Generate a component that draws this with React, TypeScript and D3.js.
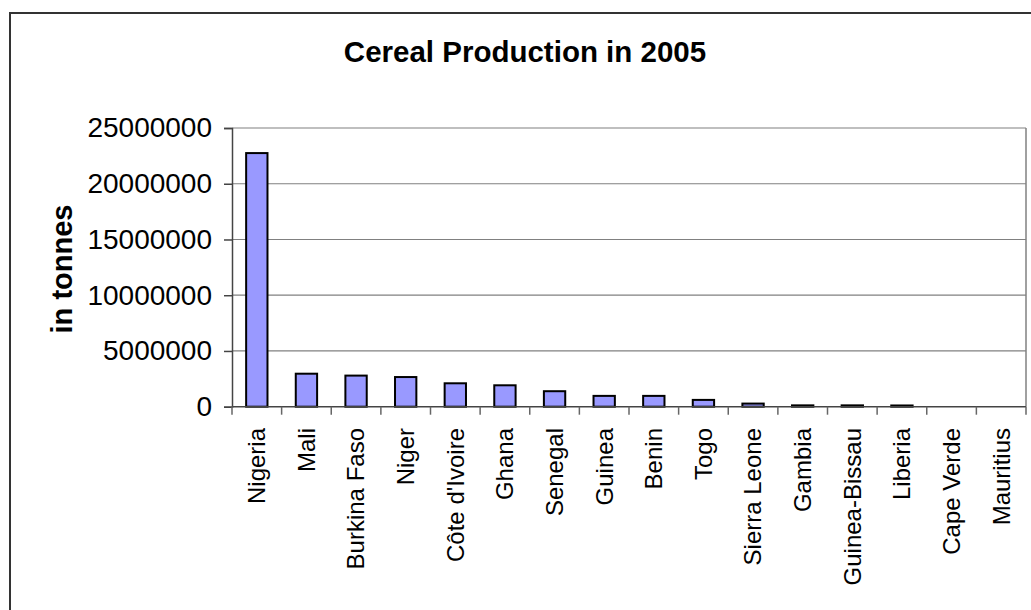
import React, { useEffect, useRef } from "react";
import * as d3 from "d3";

const countries = [
  "Nigeria", "Mali", "Burkina Faso", "Niger", "Côte d'Ivoire", "Ghana", "Senegal", "Guinea",
  "Benin", "Togo", "Sierra Leone", "Gambia", "Guinea-Bissau", "Liberia", "Cape Verde", "Mauritius",
];
const production = [
  22750000, 2960000, 2790000, 2660000, 2100000, 1920000, 1390000, 970000,
  970000, 610000, 280000, 120000, 120000, 110000, 5000, 100,
];
const yTicks = [0, 5000000, 10000000, 15000000, 20000000, 25000000];

const W = 1031;
const H = 610;
const plot = { left: 232, right: 1026, top: 128, bottom: 406.7 };

export default function App() {
  const ref = useRef<SVGSVGElement>(null);

  useEffect(() => {
    document.body.style.margin = "0";
    const svg = d3.select(ref.current);
    svg.selectAll("*").remove();
    const font = "'Liberation Sans', Arial, sans-serif";

    // chart frame
    svg.append("rect")
      .attr("x", 10).attr("y", 13).attr("width", 1040).attr("height", 620)
      .attr("fill", "#fff").attr("stroke", "#333").attr("stroke-width", 2);

    const x = d3.scaleBand<string>().domain(countries).range([plot.left, plot.right]).paddingInner(0.57).paddingOuter(0.285);
    const band = d3.scaleBand<string>().domain(countries).range([plot.left, plot.right]);
    const y = d3.scaleLinear().domain([0, 25000000]).range([plot.bottom, plot.top]);

    // gridlines
    svg.append("g").selectAll("line").data(yTicks.filter(t => t > 0)).join("line")
      .attr("x1", plot.left).attr("x2", plot.right)
      .attr("y1", d => y(d)).attr("y2", d => y(d))
      .attr("stroke", "#808080").attr("stroke-width", 1.2);
    // right edge of plot area
    svg.append("line")
      .attr("x1", plot.right).attr("x2", plot.right).attr("y1", plot.top).attr("y2", plot.bottom)
      .attr("stroke", "#808080").attr("stroke-width", 1.5);

    // bars (values too small to reach half a pixel stay invisible)
    const rows = countries.map((c, i) => ({ c, v: production[i] }))
      .filter(r => plot.bottom - y(r.v) >= 0.5);
    svg.append("g").selectAll("rect").data(rows).join("rect")
      .attr("x", r => x(r.c)!)
      .attr("width", x.bandwidth())
      .attr("y", r => y(r.v))
      .attr("height", r => plot.bottom - y(r.v))
      .attr("fill", "#9999FF").attr("stroke", "#000").attr("stroke-width", 2);

    // y axis
    const ya = svg.append("g").attr("transform", `translate(${plot.left},0)`)
      .call(d3.axisLeft(y).tickValues(yTicks).tickSize(8).tickPadding(12).tickFormat(d3.format("d")));
    ya.select(".domain").attr("stroke", "#444").attr("stroke-width", 1.5);
    ya.selectAll(".tick line").attr("stroke", "#444").attr("stroke-width", 1.5);
    ya.selectAll(".tick text").attr("font-family", font).attr("font-size", 28).attr("fill", "#000");

    // x axis baseline and category ticks
    svg.append("line")
      .attr("x1", plot.left).attr("x2", plot.right).attr("y1", plot.bottom).attr("y2", plot.bottom)
      .attr("stroke", "#444").attr("stroke-width", 1.5);
    const bounds = countries.map(c => band(c)!).concat([plot.right]);
    svg.append("g").selectAll("line").data(bounds).join("line")
      .attr("x1", d => d).attr("x2", d => d)
      .attr("y1", plot.bottom).attr("y2", plot.bottom + 8)
      .attr("stroke", "#666").attr("stroke-width", 1.5);

    // category labels
    svg.append("g").selectAll("text").data(countries).join("text")
      .attr("transform", d => `translate(${band(d)! + band.bandwidth() / 2},428) rotate(-90)`)
      .attr("text-anchor", "end").attr("dy", "0.35em")
      .attr("font-family", font).attr("font-size", 24).attr("fill", "#000")
      .text(d => d);

    // title
    svg.append("text")
      .attr("x", 525).attr("y", 62).attr("text-anchor", "middle")
      .attr("font-family", font).attr("font-size", 29.5).attr("font-weight", "bold")
      .text("Cereal Production in 2005");

    // y axis title
    svg.append("text")
      .attr("transform", `translate(72,269) rotate(-90)`)
      .attr("text-anchor", "middle")
      .attr("font-family", font).attr("font-size", 29).attr("font-weight", "bold")
      .text("in tonnes");
  }, []);

  return <svg ref={ref} width={W} height={H} style={{ display: "block" }} />;
}
